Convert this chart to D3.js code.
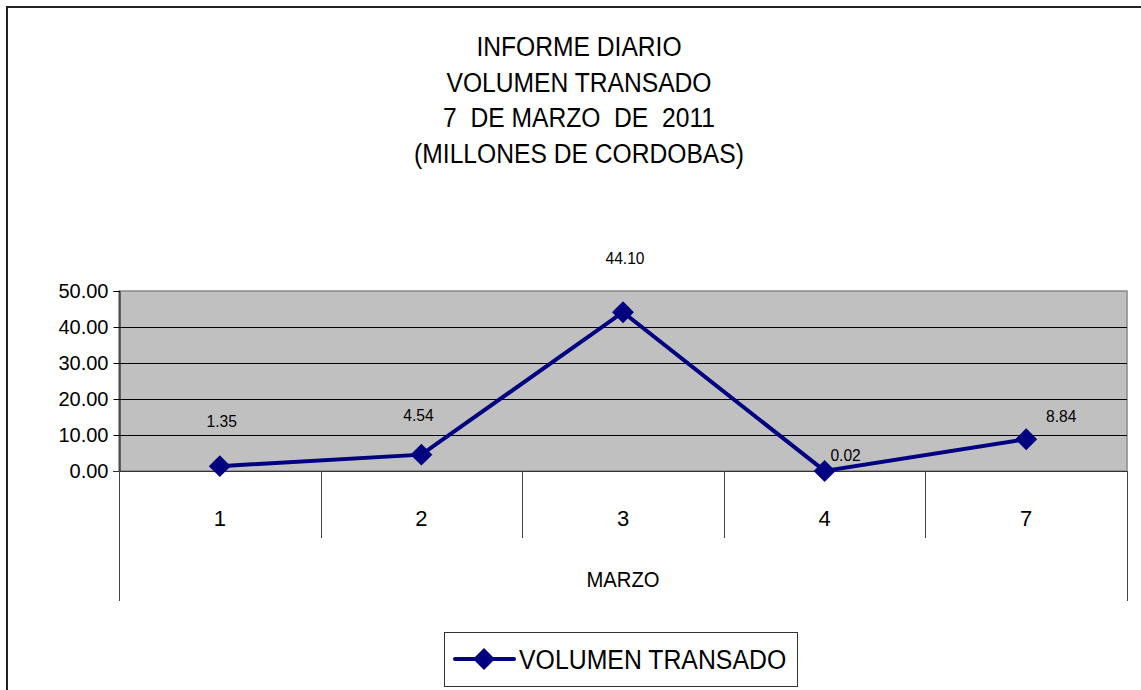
<!DOCTYPE html>
<html>
<head>
<meta charset="utf-8">
<script src="https://cdn.jsdelivr.net/npm/d3@7"></script>
<style>
  body { margin: 0; background: #fff; }
  svg { display: block; }
  text { fill: #000; }
</style>
</head>
<body>
<svg width="1141" height="690"></svg>
<script>
const titleLines = ["INFORME DIARIO", "VOLUMEN TRANSADO", "7  DE MARZO  DE  2011", "(MILLONES DE CORDOBAS)"];
const days = ["1", "2", "3", "4", "7"];
const volumen = [1.35, 4.54, 44.10, 0.02, 8.84];
const yTicks = [0, 10, 20, 30, 40, 50];
const groupLabel = "MARZO";
const seriesName = "VOLUMEN TRANSADO";

function drawChart() {
  let svg = d3.select("svg"),
    margin = { left: 119, right: 1127, top: 291, bottom: 471 };

  const font = "'Liberation Sans', Arial, sans-serif";

  // chart border (top and left edges are visible)
  svg.append("path")
    .attr("d", "M7,700 V7 H1141")
    .attr("fill", "none")
    .attr("stroke", "#222")
    .attr("stroke-width", 2);

  // title, condensed like the original narrow face
  svg.append("g").selectAll("text")
    .data(titleLines)
    .enter().append("text")
    .attr("transform", (d, i) => "translate(579," + (56 + i * 35.5) + ") scale(0.88,1)")
    .attr("text-anchor", "middle")
    .style("font-family", font)
    .style("font-size", "28px")
    .style("white-space", "pre")
    .text(d => d);

  let x = d3.scaleBand()
    .domain(days)
    .range([margin.left, margin.right]);
  let y = d3.scaleLinear()
    .domain([0, 50])
    .range([margin.bottom, margin.top]);

  // plot area
  svg.append("rect")
    .attr("x", margin.left).attr("y", margin.top)
    .attr("width", margin.right - margin.left)
    .attr("height", margin.bottom - margin.top)
    .attr("fill", "#c0c0c0")
    .attr("stroke", "#888")
    .attr("stroke-width", 1.5);

  // gridlines
  svg.append("g").selectAll("line")
    .data(yTicks.slice(1, -1))
    .enter().append("line")
    .attr("x1", margin.left).attr("x2", margin.right)
    .attr("y1", d => Math.round(y(d)) + 0.5)
    .attr("y2", d => Math.round(y(d)) + 0.5)
    .attr("stroke", "#000");

  // y axis
  let yAxis = svg.append("g")
    .attr("transform", "translate(" + (margin.left + 0.5) + ",0)")
    .call(d3.axisLeft(y).tickValues(yTicks).tickFormat(d3.format(".2f")).tickSize(6).tickPadding(5));
  yAxis.select(".domain").attr("stroke", "#000");
  yAxis.selectAll(".tick line").attr("stroke", "#000");
  yAxis.selectAll("text")
    .style("font-family", font)
    .style("font-size", "20px")
    .attr("fill", "#000");

  // x axis baseline
  svg.append("line")
    .attr("x1", margin.left - 6).attr("x2", margin.right)
    .attr("y1", margin.bottom + 0.5).attr("y2", margin.bottom + 0.5)
    .attr("stroke", "#333");

  // category dividers
  let bounds = days.map(d => x(d)).concat([margin.right]);
  svg.append("g").selectAll("line")
    .data(bounds)
    .enter().append("line")
    .attr("x1", d => Math.round(d) + 0.5).attr("x2", d => Math.round(d) + 0.5)
    .attr("y1", margin.bottom)
    .attr("y2", (d, i) => (i === 0 || i === bounds.length - 1) ? 601 : 538)
    .attr("stroke", "#444");

  // category labels
  svg.append("g").selectAll("text")
    .data(days)
    .enter().append("text")
    .attr("x", d => x(d) + x.bandwidth() / 2)
    .attr("y", 526)
    .attr("text-anchor", "middle")
    .style("font-family", font)
    .style("font-size", "22px")
    .text(d => d);

  svg.append("text")
    .attr("transform", "translate(" + ((margin.left + margin.right) / 2) + ",587) scale(0.92,1)")
    .attr("text-anchor", "middle")
    .style("font-family", font)
    .style("font-size", "22px")
    .text(groupLabel);

  // series
  let pts = volumen.map((v, i) => [x(days[i]) + x.bandwidth() / 2, y(v)]);
  svg.append("path")
    .attr("d", d3.line()(pts))
    .attr("fill", "none")
    .attr("stroke", "#000080")
    .attr("stroke-width", 4);

  let diamond = d3.symbol().type(d3.symbolSquare).size(240);
  svg.append("g").selectAll("path")
    .data(pts)
    .enter().append("path")
    .attr("d", diamond)
    .attr("transform", d => "translate(" + d[0] + "," + d[1] + ") rotate(45)")
    .attr("fill", "#000080");

  // data labels
  const labelOffsets = [[2, -39], [-3, -34], [2, -48], [21, -10], [35, -17]];
  svg.append("g").selectAll("text")
    .data(volumen)
    .enter().append("text")
    .attr("transform", (d, i) => "translate(" + (pts[i][0] + labelOffsets[i][0]) + "," + (pts[i][1] + labelOffsets[i][1]) + ") scale(0.92,1)")
    .attr("text-anchor", "middle")
    .style("font-family", font)
    .style("font-size", "17px")
    .text(d => d.toFixed(2));

  // legend
  let lg = svg.append("g");
  lg.append("rect")
    .attr("x", 444.5).attr("y", 632.5)
    .attr("width", 353).attr("height", 54)
    .attr("fill", "#fff")
    .attr("stroke", "#333");
  lg.append("line")
    .attr("x1", 455).attr("x2", 514)
    .attr("y1", 659).attr("y2", 659)
    .attr("stroke", "#000080")
    .attr("stroke-width", 4)
    .attr("stroke-linecap", "round");
  lg.append("path")
    .attr("d", diamond)
    .attr("transform", "translate(484,659) rotate(45)")
    .attr("fill", "#000080");
  lg.append("text")
    .attr("transform", "translate(519,669) scale(0.92,1)")
    .style("font-family", font)
    .style("font-size", "27px")
    .text(seriesName);
}

drawChart();
</script>
</body>
</html>
